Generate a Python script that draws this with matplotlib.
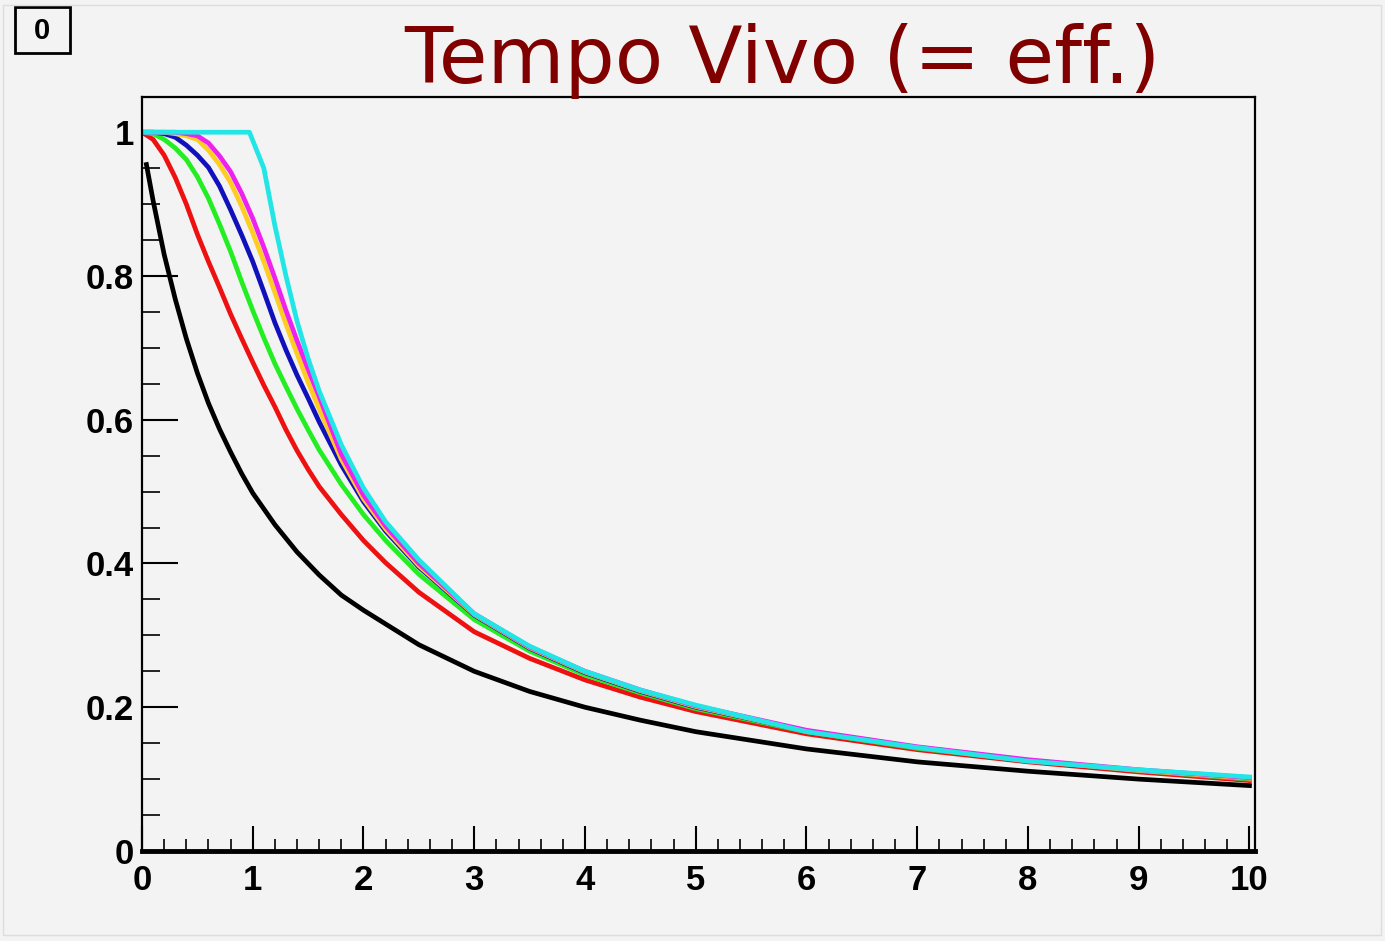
import numpy as np
import matplotlib
matplotlib.use("Agg")
import matplotlib.pyplot as plt
from matplotlib.patches import Rectangle
from matplotlib.ticker import MultipleLocator, FixedLocator

# values
x_black = [0.04, 0.1, 0.2, 0.3, 0.4, 0.5, 0.6, 0.7, 0.8, 0.9, 1.0, 1.2, 1.4, 1.6, 1.8,
           2.0, 2.5, 3.0, 3.5, 4.0, 4.5, 5.0, 6.0, 7.0, 8.0, 9.0, 10.0]
y_black = [0.955, 0.905, 0.83, 0.768, 0.713, 0.665, 0.623, 0.587, 0.555, 0.525, 0.498,
           0.454, 0.416, 0.384, 0.356, 0.335, 0.287, 0.25, 0.222, 0.2, 0.182, 0.166,
           0.142, 0.124, 0.111, 0.1, 0.091]

x_col = [0.0, 0.1, 0.2, 0.3, 0.4, 0.5, 0.6, 0.7, 0.8, 0.9, 1.0, 1.1, 1.2, 1.3, 1.4,
         1.5, 1.6, 1.8, 2.0, 2.2, 2.5, 3.0, 3.5, 4.0, 4.5, 5.0, 6.0, 7.0, 8.0, 9.0, 10.0]
y_red = [1.0, 0.99, 0.968, 0.937, 0.9, 0.858, 0.82, 0.784, 0.747, 0.713, 0.68, 0.648,
         0.618, 0.586, 0.557, 0.531, 0.507, 0.468, 0.432, 0.401, 0.36, 0.305, 0.268, 0.238,
         0.214, 0.194, 0.163, 0.141, 0.124, 0.11, 0.098]
y_green = [1.0, 0.998, 0.99, 0.978, 0.962, 0.938, 0.908, 0.872, 0.834, 0.792, 0.752, 0.714,
           0.678, 0.646, 0.615, 0.586, 0.558, 0.51, 0.468, 0.432, 0.385, 0.322, 0.278,
           0.245, 0.22, 0.198, 0.166, 0.143, 0.126, 0.112, 0.1]
y_blue = [1.0, 1.0, 0.998, 0.993, 0.982, 0.968, 0.951, 0.925, 0.892, 0.857, 0.82, 0.778,
          0.735, 0.697, 0.662, 0.63, 0.597, 0.537, 0.486, 0.445, 0.395, 0.328, 0.282, 0.248,
          0.222, 0.2, 0.167, 0.144, 0.126, 0.112, 0.101]
y_yellow = [1.0, 1.0, 1.0, 0.998, 0.995, 0.99, 0.975, 0.955, 0.93, 0.897, 0.86, 0.82,
            0.777, 0.733, 0.692, 0.652, 0.615, 0.545, 0.49, 0.448, 0.397, 0.329, 0.283,
            0.249, 0.223, 0.201, 0.167, 0.144, 0.126, 0.112, 0.101]
y_magenta = [1.0, 1.0, 1.0, 1.0, 0.998, 0.995, 0.985, 0.967, 0.945, 0.915, 0.88, 0.84,
             0.797, 0.752, 0.71, 0.67, 0.632, 0.552, 0.495, 0.452, 0.4, 0.33, 0.284, 0.25,
             0.224, 0.202, 0.168, 0.145, 0.127, 0.113, 0.102]

x_cyan = [0.0, 0.5, 0.97, 1.1, 1.2, 1.3, 1.4, 1.5, 1.6, 1.8, 2.0, 2.2, 2.5, 3.0, 3.5,
          4.0, 4.5, 5.0, 6.0, 7.0, 8.0, 9.0, 10.0]
y_cyan = [1.0, 1.0, 1.0, 0.95, 0.87, 0.8, 0.737, 0.685, 0.64, 0.565, 0.505, 0.458, 0.405,
          0.33, 0.285, 0.25, 0.224, 0.203, 0.166, 0.144, 0.125, 0.113, 0.103]

x_ticks = list(range(0, 11))
y_ticks = [0, 0.2, 0.4, 0.6, 0.8, 1.0]
y_ticklabels = ["0", "0.2", "0.4", "0.6", "0.8", "1"]

bg = "#f3f3f3"
fig = plt.figure(figsize=(13.85, 9.41), dpi=100, facecolor=bg)
ax = fig.add_axes([142 / 1385, 90 / 941, (1255 - 142) / 1385, (851 - 97) / 941])
ax.set_facecolor(bg)

lw = 3.4
ax.plot(x_black, y_black, color="black", lw=lw)
ax.plot(x_col, y_red, color="#ee1111", lw=lw)
ax.plot(x_col, y_green, color="#22ee22", lw=lw)
ax.plot(x_col, y_blue, color="#1111bb", lw=lw)
ax.plot(x_col, y_yellow, color="#ffcc22", lw=lw)
ax.plot(x_col, y_magenta, color="#ee22ee", lw=lw)
ax.plot(x_cyan, y_cyan, color="#22e5e5", lw=lw)

ax.set_xlim(0, 10.05)
ax.set_ylim(0, 1.049)

ax.xaxis.set_major_locator(FixedLocator(x_ticks))
ax.xaxis.set_minor_locator(MultipleLocator(0.2))
ax.yaxis.set_major_locator(FixedLocator(y_ticks))
ax.yaxis.set_minor_locator(MultipleLocator(0.05))
ax.set_xticklabels([str(v) for v in x_ticks])
ax.set_yticklabels(y_ticklabels)

ax.tick_params(axis="x", which="major", direction="in", length=18, width=1.5, pad=9)
ax.tick_params(axis="x", which="minor", direction="in", length=9, width=1.2)
ax.tick_params(axis="y", which="major", direction="in", length=26, width=1.5, pad=6)
ax.tick_params(axis="y", which="minor", direction="in", length=13, width=1.2)
for lab in ax.get_xticklabels() + ax.get_yticklabels():
    lab.set_fontfamily("Liberation Sans")
    lab.set_fontweight("bold")
    lab.set_fontsize(25)

for side in ["left", "top", "right"]:
    ax.spines[side].set_linewidth(1.6)
ax.spines["bottom"].set_linewidth(3.5)

fig.text(0.565, (941 - 83) / 941, "Tempo Vivo (= eff.)", color="#800000",
         fontsize=57, ha="center", va="baseline", family="DejaVu Sans")

fig.add_artist(Rectangle((15 / 1385, (941 - 53) / 941), 55 / 1385, 46 / 941,
                         transform=fig.transFigure, fill=False, lw=2, ec="black"))
fig.text(42 / 1385, (941 - 31) / 941, "0", fontsize=21, fontweight="bold",
         family="Liberation Sans", ha="center", va="center")

fig.add_artist(Rectangle((3 / 1385, 6 / 941), 1378 / 1385, 930 / 941,
                         transform=fig.transFigure, fill=False, lw=1, ec="#dddddd"))

fig.savefig("out.png", dpi=100, facecolor=bg)
